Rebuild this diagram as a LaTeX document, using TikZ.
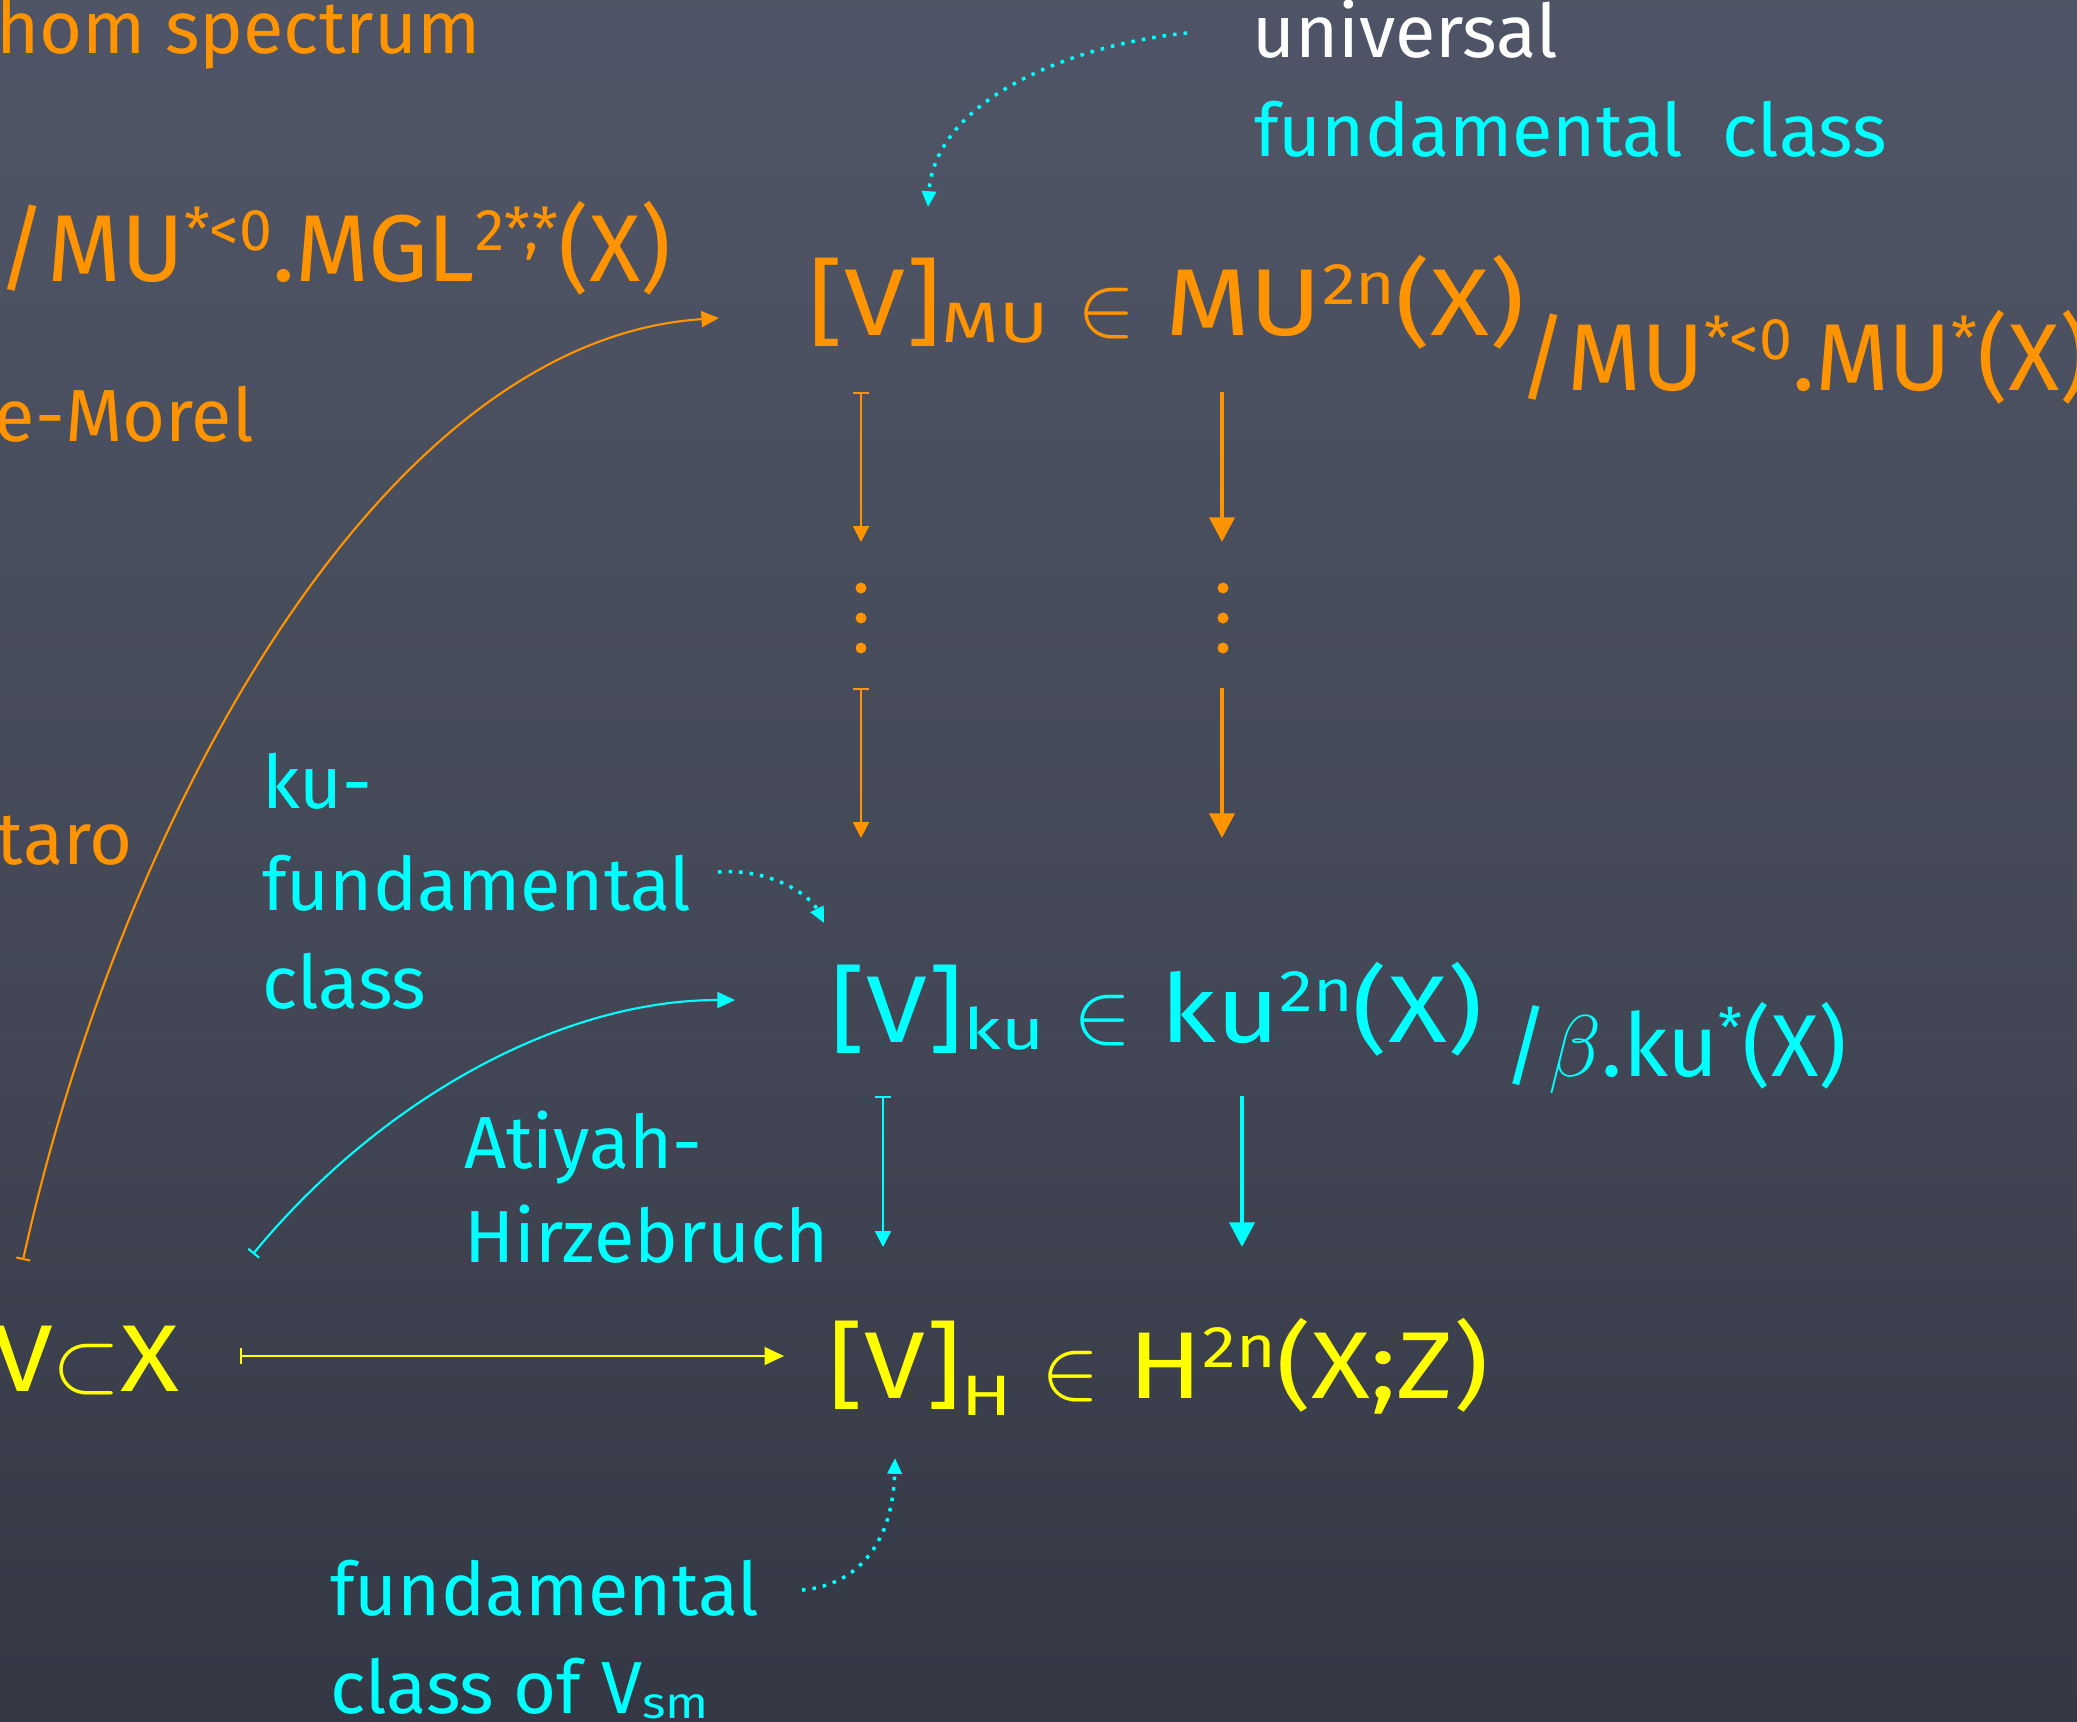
\documentclass[tikz,border=0pt]{standalone}
\usepackage{fontspec}
\setmainfont{Fira Sans}
\newfontfamily\wideface{Fira Sans}[FakeStretch=1.15]
\usetikzlibrary{arrows.meta,calc}

\definecolor{chalkorange}{RGB}{255,148,0}
\definecolor{chalkcyan}{RGB}{0,255,255}
\definecolor{chalkyellow}{RGB}{255,255,0}
\definecolor{boardtop}{RGB}{82,88,108}
\definecolor{boardhigh}{RGB}{78,84,100}
\definecolor{boardmid}{RGB}{66,70,84}
\definecolor{boardlow}{RGB}{52,55,68}
\definecolor{boarddark}{RGB}{40,42,56}
\definecolor{boardbot}{RGB}{36,38,50}
\pgfdeclareverticalshading{board}{100bp}{color(0bp)=(boardbot); color(10bp)=(boarddark);
  color(25bp)=(boardlow); color(44bp)=(boardmid); color(71bp)=(boardhigh); color(100bp)=(boardtop)}

\newcommand{\bigfont}{\fontsize{27}{32}\selectfont}
\newcommand{\labfont}{\fontsize{21}{25}\selectfont}
\newcommand{\quotfont}{\fontsize{25}{30}\selectfont}
\newcommand{\sups}[1]{\raisebox{0.32em}{\scalebox{0.62}{#1}}}
\newcommand{\subs}[1]{\raisebox{-0.08em}{\scalebox{0.68}[0.6]{#1}}}

\begin{document}
\begin{tikzpicture}[
    x=0.01cm, y=-0.01cm,
    txt/.style={anchor=base west,inner sep=0pt,outer sep=0pt},
    formula/.style={txt,font=\bigfont\wideface},
    note/.style={txt,font=\labfont},
    thinmap/.style={{Bar[width=4.5pt,line width=0.6pt]}-{Triangle[width=4.5pt,length=4.5pt]},line width=0.6pt},
    thickmap/.style={-{Triangle[width=7pt,length=7pt]},line width=1.4pt},
    curvemap/.style={{Bar[width=4pt,line width=0.6pt]}-{Triangle[width=4.5pt,length=5pt]},line width=0.6pt},
    hint/.style={-{Triangle[width=4pt,length=4.5pt]},line width=1pt,dash pattern=on 1pt off 2pt,chalkcyan}
]
\useasboundingbox (0,0) rectangle (2077,1721);
\clip (0,0) rectangle (2077,1721);
\shade[shading=board] (0,0) rectangle (2077,1721);

% text cut at the left margin
\node[note,chalkorange] (thom) at (-4,53) {hom spectrum};
\node[txt,font=\bigfont,chalkorange] (mgl) at (-2,281) {/MU\sups{*<0}.MGL\sups{2*,*}(X)};
\node[note,chalkorange] (lmor) at (-5,441) {e-Morel};
\node[note,chalkorange] (taro) at (-3,864) {taro};
\node[formula,chalkyellow] (vx) at (-8,1391) {V$\subset$X};

% top right
\node[note,white] (univ) at (1252,57) {universal};
\node[note,chalkcyan] (ufc) at (1254,156) {fundamental\ \ class};

% the three classes
\node[formula,chalkorange] (mu) at (808,335) {[V]\subs{MU} $\in$ MU\sups{2n}(X)};
\node[txt,font=\bigfont,chalkorange] (muq) at (1518,390) {/MU\sups{*<0}.MU\sups{*}(X)};
\node[formula,chalkcyan] (ku) at (830,1042) {[V]\subs{ku} $\in$ ku\sups{2n}(X)};
\node[txt,font=\quotfont,chalkcyan] (kuq) at (1503,1076) {/$\beta$.ku\sups{*}(X)};
\node[formula,chalkyellow] (hz) at (828,1398) {[V]\raisebox{-0.1em}{\subs{H}} $\in$ H\sups{2n}(X;Z)};

% labels
\node[note,chalkcyan] (kua) at (262,808) {ku-};
\node[note,chalkcyan] (kub) at (262,910) {fundamental};
\node[note,chalkcyan] (kuc) at (262,1008) {class};
\node[note,chalkcyan] (aha) at (464,1168) {Atiyah-};
\node[note,chalkcyan] (ahb) at (464,1262) {Hirzebruch};
\node[note,chalkcyan] (fca) at (330,1615) {fundamental};
\node[note,chalkcyan] (fcb) at (330,1713) {class of V\subs{sm}};

% arrow ends
\coordinate (la1) at (861,392);  \coordinate (la2) at (861,542);
\coordinate (la3) at (861,688);  \coordinate (la4) at (861,838);
\coordinate (ra1) at (1222,392); \coordinate (ra2) at (1222,542);
\coordinate (ra3) at (1222,688); \coordinate (ra4) at (1222,838);
\coordinate (lb1) at (883,1096); \coordinate (lb2) at (883,1247);
\coordinate (rb1) at (1242,1096); \coordinate (rb2) at (1242,1247);
\coordinate (hs) at (240,1356);  \coordinate (he) at (784,1356);
\coordinate (os) at (23,1260);   \coordinate (oe) at (719,318);
\coordinate (cs) at (253,1254);  \coordinate (ce) at (735,1000);
\coordinate (ts) at (1187,33);   \coordinate (te) at (928,207);
\coordinate (ks) at (718,872);   \coordinate (ke) at (824,923);
\coordinate (bs) at (802,1590);  \coordinate (be) at (895,1458);

% MU -> ku
\draw[thinmap,chalkorange] (la1) -- (la2);
\draw[thinmap,chalkorange] (la3) -- (la4);
\draw[thickmap,chalkorange] (ra1) -- (ra2);
\draw[thickmap,chalkorange] (ra3) -- (ra4);
\foreach \y in {588,618,648} {
  \fill[chalkorange] (861,\y) circle (5.5);
  \fill[chalkorange] (1223,\y) circle (5.5);
}

% ku -> H
\draw[thinmap,chalkcyan] (lb1) -- (lb2);
\draw[thickmap,chalkcyan] (rb1) -- (rb2);

% V in X
\draw[{Bar[width=4.5pt,line width=0.7pt]}-{Triangle[width=5pt,length=5.5pt]},line width=0.7pt,chalkyellow] (hs) -- (he);
\draw[curvemap,chalkorange] (os) .. controls (120,820) and (380,340) .. (oe);
\draw[curvemap,chalkcyan] (cs) .. controls (380,1100) and (560,1000) .. (ce);

% pointers
\draw[hint] (ts) .. controls (1070,45) and (935,100) .. (te);
\draw[hint] (ks) .. controls (770,868) and (810,895) .. (ke);
\draw[hint] (bs) .. controls (860,1585) and (893,1540) .. (be);
\end{tikzpicture}
\end{document}
